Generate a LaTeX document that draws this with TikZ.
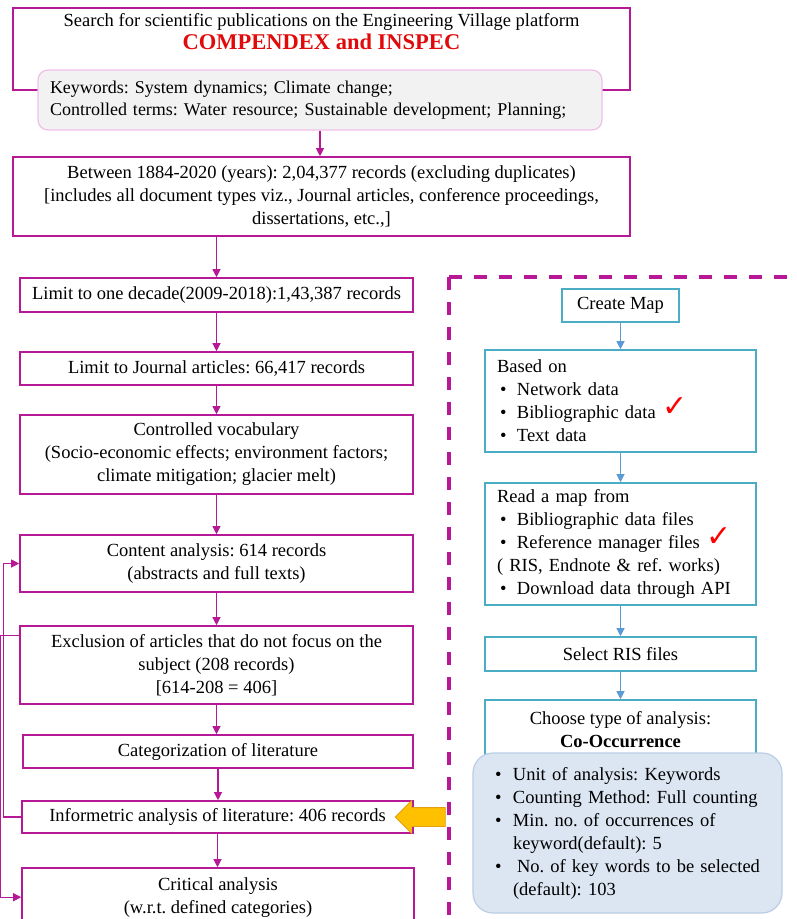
\documentclass[tikz,border=0pt]{standalone}
\usepackage{fontspec}
\setmainfont{Liberation Serif}
\newfontfamily\symbfont{DejaVu Sans}
\usetikzlibrary{shapes.arrows,arrows.meta}
\definecolor{flowpink}{RGB}{182,24,150}
\definecolor{keyborder}{RGB}{240,190,235}
\definecolor{keyfill}{RGB}{242,242,242}
\definecolor{mapborder}{RGB}{75,172,198}
\definecolor{mapblue}{RGB}{91,155,213}
\definecolor{optfill}{RGB}{220,230,242}
\definecolor{optborder}{RGB}{185,205,230}
\definecolor{arrowyellow}{RGB}{255,192,0}
\definecolor{arrowedge}{RGB}{225,160,20}
\definecolor{titlered}{RGB}{225,10,10}
\frenchspacing
\newcommand{\bul}{\hspace*{3pt}\makebox[17pt][l]{•}}
\newcommand{\obul}{\makebox[18pt][l]{•}}
\tikzset{
  every picture/.style={font={\fontsize{18.5}{23}\selectfont}, >={Triangle[length=8pt,width=8pt]}}}

\begin{document}
\begin{tikzpicture}[x=1pt, y=-1pt,
    stepbox/.style={
      draw=flowpink, line width=1.6pt,
      align=center, inner sep=3pt},
    keybox/.style={
      draw=keyborder, fill=keyfill, line width=1.2pt,
      rounded corners=10pt, align=left,
      font={\fontsize{18}{22}\selectfont},
      text width=540pt, inner xsep=12pt, minimum height=60pt},
    mapbox/.style={
      draw=mapborder, line width=1.6pt,
      inner xsep=12pt, minimum width=271pt},
    optbox/.style={
      draw=optborder, fill=optfill, line width=1.2pt,
      rounded corners=20pt, align=left,
      text width=265pt, inner xsep=22pt, minimum height=160pt},
    tick/.style={text=red, font={\symbfont\fontsize{30}{30}\selectfont}},
    flow/.style={->, draw=flowpink, line width=1.1pt},
    mapflow/.style={->, draw=mapblue, line width=1.1pt},
    dashframe/.style={draw=flowpink, line width=4pt, dash pattern=on 13pt off 12pt}]

    \clip (0,0) rectangle (796,919);

    % search platform
    \node[stepbox, minimum width=617pt, minimum height=82pt] (search) at (321.5,49) {};
    \node[anchor=north, align=center, inner sep=0pt] (searchtxt) at (321.5,13)
    {Search for scientific publications on the Engineering Village platform\\
     {\color{titlered}\fontsize{22.5}{25}\selectfont\bfseries COMPENDEX and INSPEC}};
    \node[keybox] (keywords) at (320,100)
    {Keywords: System dynamics; Climate change;\\
     Controlled terms: Water resource; Sustainable development; Planning;};

    \node[stepbox, minimum width=617pt, minimum height=79pt] (between) at (321.5,196.5)
    {Between 1884-2020 (years): 2,04,377 records (excluding duplicates)\\
     {[}includes all document types viz., Journal articles, conference proceedings,\\
     dissertations, etc.,{]}};

    % left column
    \node[stepbox, minimum width=393pt, minimum height=34pt] (decade) at (216.5,295)
    {Limit to one decade(2009-2018):1,43,387 records};
    \node[stepbox, minimum width=393pt, minimum height=33pt] (journal) at (216.5,368.5)
    {Limit to Journal articles: 66,417 records};
    \node[stepbox, minimum width=393pt, minimum height=79pt] (vocab) at (216.5,454.5)
    {Controlled vocabulary\\
     (Socio-economic effects; environment factors;\\
     climate mitigation; glacier melt)};
    \node[stepbox, minimum width=393pt, minimum height=57pt] (content) at (216.5,563.5)
    {Content analysis: 614 records\\(abstracts and full texts)};
    \node[stepbox, minimum width=393pt, minimum height=78pt] (exclusion) at (216.5,665)
    {Exclusion of articles that do not focus on the\\
     subject (208 records)\\{[}614-208 = 406{]}};
    \node[stepbox, minimum width=390pt, minimum height=33pt] (categ) at (218,751.5)
    {Categorization of literature};
    \node[stepbox, minimum width=391pt, minimum height=32pt] (inform) at (217.5,817)
    {Informetric analysis of literature: 406 records};
    \node[stepbox, minimum width=392pt, minimum height=60pt] (critical) at (218,898)
    {Critical analysis\\(w.r.t. defined categories)};

    \draw[flow] (keywords.south) -- (keywords.south |- between.north);
    \draw[flow] (decade.north |- between.south) -- (decade.north);
    \foreach \a/\b in {decade/journal, journal/vocab, vocab/content, content/exclusion,
                       exclusion/categ, categ/inform, inform/critical}
      \draw[flow] (\a.south) -- (\a.south |- \b.north);
    \draw[flow] (inform.west) -- ++(-18,0) |- (content.west);
    \draw[flow] ([yshift=-10pt]exclusion.north west) -- ++(-18.5,0) |- ([yshift=-30pt]critical.north west);

    % VOSviewer steps
    \coordinate (frame) at (449,277);
    \draw[dashframe] (frame) -- (449,940);
    \draw[dashframe] (frame) -- (820,277);

    \node[mapbox, minimum width=117pt, minimum height=33pt] (createmap) at (620.5,305.5) {Create Map};
    \node[mapbox, align=left, text width=247pt, minimum height=102pt] (basedon) at (620.5,401)
    {Based on\\
     \bul Network data\\
     \bul Bibliographic data\\
     \bul Text data};
    \node[tick] (check1) at (675,407) {✓};
    \node[mapbox, align=left, text width=247pt, minimum height=122pt] (readmap) at (620.5,544)
    {Read a map from\\
     \bul Bibliographic data files\\
     \bul Reference manager files\\
     ( RIS, Endnote \& ref. works)\\
     \bul Download data through API};
    \node[tick] (check2) at (719,537) {✓};
    \node[mapbox, minimum height=34pt] (selectris) at (620.5,654) {Select RIS files};
    \node[mapbox, align=center, minimum height=60pt] (choose) at (620.5,730)
    {Choose type of analysis:\\\textbf{Co-Occurrence}};
    \node[optbox] (options) at (627.5,833)
    {\obul Unit of analysis: Keywords\\
     \obul Counting Method: Full counting\\
     \obul Min. no. of occurrences of\\
     \hspace*{18pt}keyword(default): 5\\
     \obul\hspace*{4pt}No. of key words to be selected\\
     \hspace*{18pt}(default): 103};

    \foreach \a/\b in {createmap/basedon, basedon/readmap, readmap/selectris, selectris/choose}
      \draw[mapflow] (\a.south) -- (\b.north);

    \node[single arrow, shape border rotate=180, fill=arrowyellow, draw=arrowedge,
          line width=0.8pt, minimum width=32pt, minimum height=50pt,
          inner xsep=0pt, inner ysep=9pt,
          single arrow head extend=7pt] (yarrow) at (425,817) {};
  \end{tikzpicture}
\end{document}
